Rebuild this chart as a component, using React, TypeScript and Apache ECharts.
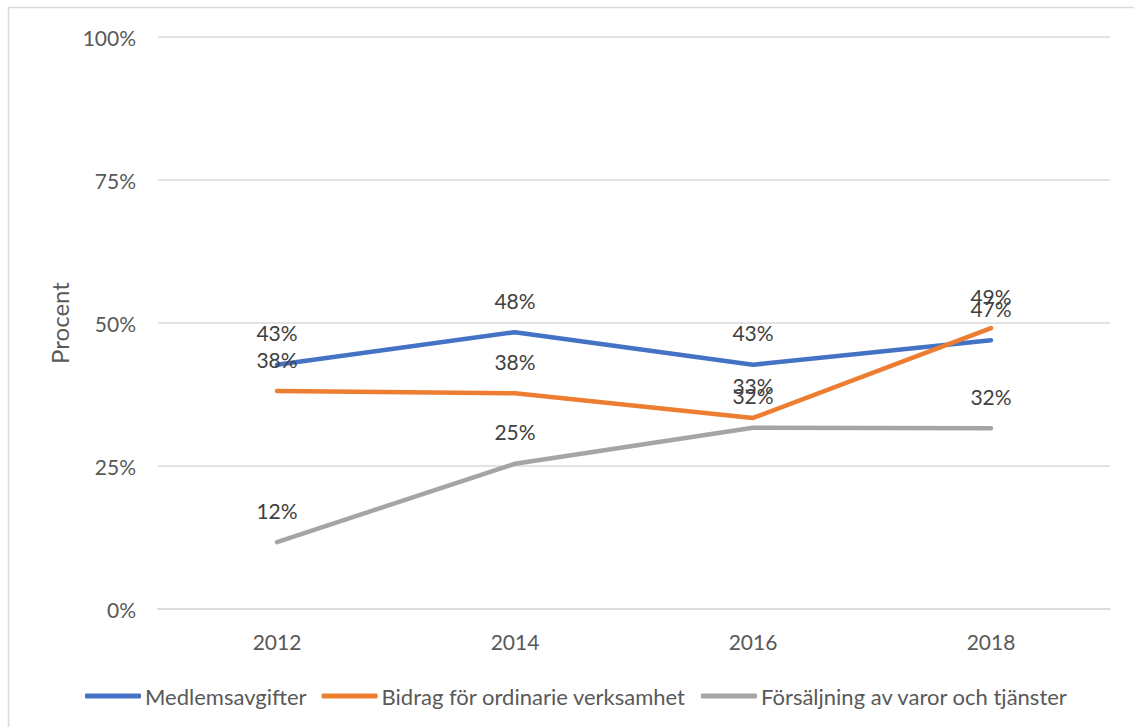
import React, { useEffect, useRef } from "react";
import * as echarts from "echarts";

const years = ["2012", "2014", "2016", "2018"];
const medlemsavgifter = [42.7, 48.4, 42.7, 47.0];
const bidrag = [38.1, 37.7, 33.4, 49.1];
const forsaljning = [11.7, 25.4, 31.7, 31.6];
const seriesNames = [
  "Medlemsavgifter",
  "Bidrag för ordinarie verksamhet",
  "Försäljning av varor och tjänster",
];
const colors = ["#4472C4", "#ED7D31", "#A5A5A5"];

const FONT = "Lato, 'Noto Sans', sans-serif";

export default function App() {
  const ref = useRef<HTMLDivElement>(null);
  useEffect(() => {
    if (!ref.current) return;
    const chart = echarts.init(ref.current, null, { renderer: "svg" });
    const data = [medlemsavgifter, bidrag, forsaljning];
    chart.setOption({
      animation: false,
      backgroundColor: "#ffffff",
      textStyle: { fontFamily: FONT },
      graphic: [
        {
          type: "rect",
          shape: { x: 8.5, y: 7.5, width: 1140, height: 740 },
          style: { fill: "none", stroke: "#d9d9d9", lineWidth: 1.5 },
          silent: true,
        },
      ],
      grid: { left: 158, right: 24, top: 37, bottom: 118 },
      legend: {
        top: 680,
        left: 80,
        icon: "roundRect",
        itemWidth: 56,
        itemHeight: 5,
        itemGap: 15,
        textStyle: { fontSize: 22, color: "#595959", fontFamily: FONT, padding: [0, 0, 0, -1] },
        data: seriesNames,
      },
      xAxis: {
        type: "category",
        data: years,
        boundaryGap: true,
        axisLine: { lineStyle: { color: "#d9d9d9", width: 1.5 } },
        axisTick: { show: false },
        axisLabel: { color: "#595959", fontSize: 21, margin: 22, fontFamily: FONT },
      },
      yAxis: {
        type: "value",
        min: 0,
        max: 100,
        interval: 25,
        name: "Procent",
        nameLocation: "middle",
        nameGap: 86,
        nameTextStyle: { color: "#595959", fontSize: 24, fontFamily: FONT },
        axisLine: { show: false },
        axisTick: { show: false },
        axisLabel: { formatter: "{value}%", color: "#595959", fontSize: 21, margin: 22, fontFamily: FONT },
        splitLine: { lineStyle: { color: "#d9d9d9", width: 1.5 } },
      },
      series: seriesNames.map((name, i) => ({
        name,
        type: "line",
        data: data[i],
        showSymbol: true,
        symbol: "circle",
        symbolSize: 1,
        color: colors[i],
        itemStyle: { color: colors[i] },
        lineStyle: { color: colors[i], width: 4.5, cap: "round", join: "round" },
        label: {
          show: true,
          position: "top",
          distance: 21,
          color: "#404040",
          fontSize: 21,
          fontFamily: FONT,
          formatter: (p: any) => Math.round(p.value) + "%",
        },
        labelLayout: { hideOverlap: false },
      })),
    });
    return () => chart.dispose();
  }, []);
  return (
    <div
      ref={ref}
      style={{ position: "absolute", left: 0, top: 0, width: 1134, height: 727 }}
    />
  );
}
